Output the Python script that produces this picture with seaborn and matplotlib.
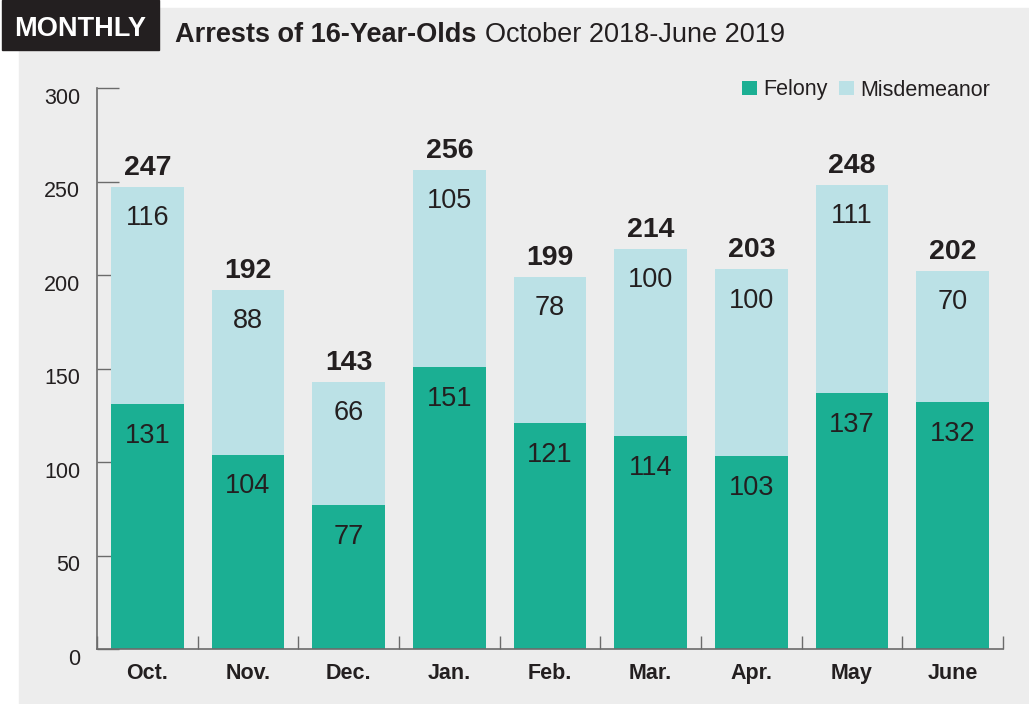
import numpy as np
import pandas as pd
import matplotlib
matplotlib.use("Agg")
import matplotlib.pyplot as plt
from matplotlib.patches import Rectangle, Patch
from matplotlib.text import Annotation
import seaborn as sns

# Monthly arrests of 16-year-olds, October 2018 - June 2019
months = ["Oct.", "Nov.", "Dec.", "Jan.", "Feb.", "Mar.", "Apr.", "May", "June"]
felony = [131, 104, 77, 151, 121, 114, 103, 137, 132]
misdemeanor = [116, 88, 66, 105, 78, 100, 100, 111, 70]
y_ticks = [0, 50, 100, 150, 200, 250, 300]

TEAL = "#1BAF93"
LIGHT = "#BBE1E6"
PANEL = "#EDEDED"
INK = "#231F20"
AXIS = "#6B6B6B"

sns.set_theme(style="white")
plt.rcParams["font.family"] = ["Liberation Sans", "DejaVu Sans"]

df = pd.DataFrame({"month": months, "felony": felony, "misdemeanor": misdemeanor})
df["total"] = df["felony"] + df["misdemeanor"]

W, H = 1029, 704
fig = plt.figure(figsize=(W / 100, H / 100), dpi=100, facecolor="white")

# grey panel and black tag, kept behind everything else
fig.patches.append(Rectangle((19 / W, 0), 1 - 19 / W, (H - 8) / H,
                             transform=fig.transFigure, color=PANEL, zorder=-10))
fig.patches.append(Rectangle((2 / W, (H - 50) / H), 157 / W, 50 / H,
                             transform=fig.transFigure, color=INK, zorder=-9))

ax = fig.add_axes([97 / W, 55 / H, 906 / W, 561 / H])
ax.patch.set_visible(False)

# stacked bars: full total in light blue, felony share on top in teal
sns.barplot(data=df, x="month", y="total", order=months, color=LIGHT,
            saturation=1, width=0.725, errorbar=None, linewidth=0, ax=ax)
sns.barplot(data=df, x="month", y="felony", order=months, color=TEAL,
            saturation=1, width=0.725, errorbar=None, linewidth=0, ax=ax)

ax.set_xlim(-0.5, len(months) - 0.5)
ax.set_ylim(0, 300)
ax.set_xlabel("")
ax.set_ylabel("")

for s in ["top", "right"]:
    ax.spines[s].set_visible(False)
for s in ["left", "bottom"]:
    ax.spines[s].set_color(AXIS)
    ax.spines[s].set_linewidth(1.2)

# y axis: inward ticks, labels sitting just under each tick
ax.set_yticks(y_ticks)
ax.tick_params(axis="y", direction="in", length=15.8, width=1, color=AXIS,
               labelleft=False, left=True)
for v in y_ticks:
    ax.annotate(str(v), xy=(0, v), xycoords=("axes fraction", "data"),
                xytext=(-12.2, -11.5), textcoords="offset points",
                ha="right", va="baseline", fontsize=15.5, color=INK,
                annotation_clip=False)

# x axis: month names centred, short separator ticks between bars
ax.set_xticks(range(len(months)))
ax.set_xticklabels(months, fontsize=15.5, fontweight="bold", color=INK)
ax.tick_params(axis="x", which="major", length=0, pad=10)
ax.set_xticks(np.arange(-0.5, len(months), 1), minor=True)
ax.tick_params(axis="x", which="minor", direction="in", length=9.4, width=1,
               color=AXIS, bottom=True)

# value labels
for i, row in df.iterrows():
    ax.annotate(f"{row['misdemeanor']}", xy=(i, row["total"]), xytext=(0, -27.5),
                textcoords="offset points", ha="center", va="baseline",
                fontsize=19.5, color=INK)
    ax.annotate(f"{row['felony']}", xy=(i, row["felony"]), xytext=(0, -28),
                textcoords="offset points", ha="center", va="baseline",
                fontsize=19.5, color=INK)
    ax.annotate(f"{row['total']}", xy=(i, row["total"]), xytext=(0, 8.6),
                textcoords="offset points", ha="center", va="baseline",
                fontsize=20.5, fontweight="bold", color=INK)

# legend
handles = [Patch(facecolor=TEAL, edgecolor="none", label="Felony"),
           Patch(facecolor=LIGHT, edgecolor="none", label="Misdemeanor")]
fig.legend(handles=handles, loc="center right", bbox_to_anchor=(990 / W, (H - 90) / H),
           ncol=2, frameon=False, fontsize=15.5, handlelength=0.67,
           handleheight=0.67, handletextpad=0.3, columnspacing=0.55,
           borderpad=0, borderaxespad=0, labelcolor=INK)

# heading
fig.text(80 / W, (H - 36) / H, "MONTHLY", color="white", fontsize=19.5,
         fontweight="bold", ha="center", va="baseline")
t1 = fig.text(175 / W, (H - 42) / H, "Arrests of 16-Year-Olds", color=INK,
              fontsize=19.5, fontweight="bold", ha="left", va="baseline")
fig.add_artist(Annotation(
    "October 2018-June 2019", xy=(1, 0), xycoords=t1, xytext=(6, 0),
    textcoords="offset points", ha="left", va="bottom",
    fontsize=19.5, color=INK))

fig.savefig("out.png", dpi=100, facecolor=fig.get_facecolor())
